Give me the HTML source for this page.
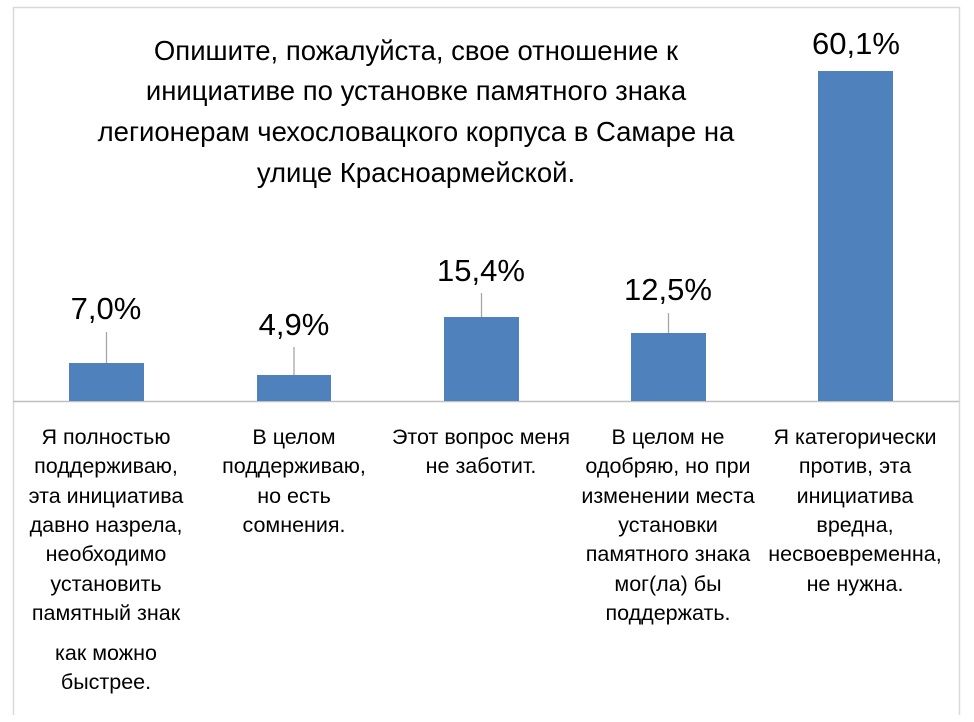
<!DOCTYPE html>
<html><head><meta charset="utf-8"><style>
body{margin:0;background:#fff;}
svg{display:block;font-family:"Liberation Sans",sans-serif;}
</style></head><body>
<svg width="974" height="722" xmlns="http://www.w3.org/2000/svg">
<rect x="0" y="0" width="974" height="722" fill="#fff"/>
<path d="M13.5 7.5H959.5V715" fill="none" stroke="#d9d9d9" stroke-width="1.5"/>
<line x1="13.5" y1="7" x2="13.5" y2="715" stroke="#d9d9d9" stroke-width="1.5"/>
<line x1="13" y1="401.5" x2="959" y2="401.5" stroke="#bfbfbf" stroke-width="1.5"/>
<g fill="#4f81bd">
<rect x="69" y="363" width="75" height="38"/>
<rect x="257" y="375" width="74" height="26"/>
<rect x="444" y="317" width="75" height="84"/>
<rect x="631" y="333" width="75" height="68"/>
<rect x="818" y="71" width="75" height="330"/>
</g>
<g stroke="#a6a6a6" stroke-width="1.3">
<line x1="106.5" y1="332" x2="106.5" y2="363"/>
<line x1="294" y1="347" x2="294" y2="375"/>
<line x1="481.5" y1="293" x2="481.5" y2="317"/>
<line x1="668.5" y1="313" x2="668.5" y2="333"/>
</g>
<g font-size="31" text-anchor="middle" fill="#000">
<text x="106" y="319">7,0%</text>
<text x="294" y="335">4,9%</text>
<text x="481" y="281">15,4%</text>
<text x="668" y="300">12,5%</text>
<text x="856" y="54">60,1%</text>
</g>
<g font-size="27.5" text-anchor="middle" fill="#000">
<text x="416" y="60">Опишите, пожалуйста, свое отношение к</text>
<text x="416" y="100">инициативе по установке памятного знака</text>
<text x="416" y="141">легионерам чехословацкого корпуса в Самаре на</text>
<text x="416" y="182">улице Красноармейской.</text>
</g>
<g font-size="21.5" text-anchor="middle" fill="#000">
<text x="106" y="444">Я полностью</text>
<text x="106" y="473">поддерживаю,</text>
<text x="106" y="503">эта инициатива</text>
<text x="106" y="532">давно назрела,</text>
<text x="106" y="561">необходимо</text>
<text x="106" y="591">установить</text>
<text x="106" y="620">памятный знак</text>
<text x="106" y="660">как можно</text>
<text x="106" y="689">быстрее.</text>
<text x="294" y="444">В целом</text>
<text x="294" y="473">поддерживаю,</text>
<text x="294" y="503">но есть</text>
<text x="294" y="532">сомнения.</text>
<text x="481" y="444">Этот вопрос меня</text>
<text x="481" y="473">не заботит.</text>
<text x="668" y="444">В целом не</text>
<text x="668" y="473">одобряю, но при</text>
<text x="668" y="503">изменении места</text>
<text x="668" y="532">установки</text>
<text x="668" y="561">памятного знака</text>
<text x="668" y="591">мог(ла) бы</text>
<text x="668" y="620">поддержать.</text>
<text x="855" y="444">Я категорически</text>
<text x="855" y="473">против, эта</text>
<text x="855" y="503">инициатива</text>
<text x="855" y="532">вредна,</text>
<text x="855" y="561">несвоевременна,</text>
<text x="855" y="591">не нужна.</text>
</g>
</svg>
</body></html>
